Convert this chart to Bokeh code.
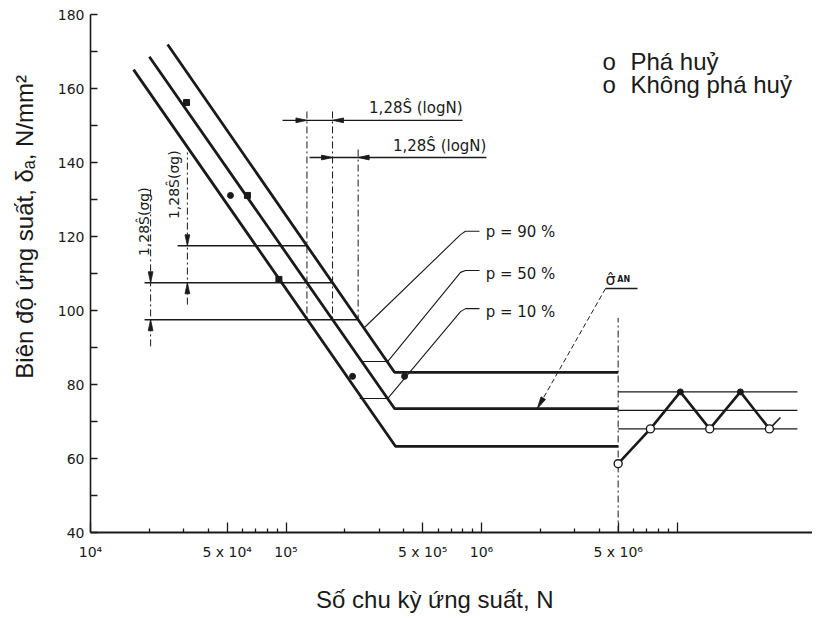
import numpy as np
from bokeh.plotting import figure
from bokeh.models import FixedTicker
from bokeh.core.properties import value
from bokeh.embed import file_html
from bokeh.resources import INLINE

# ---------------- data ----------------
# axis ticks
x_major = [1e4, 5e4, 1e5, 5e5, 1e6, 5e6, 1e7]
x_major_labels = ["10⁴", "5 x 10⁴", "10⁵", "5 x 10⁵", "10⁶", "5 x 10⁶", ""]
x_minor = [2e4, 3e4, 4e4, 6e4, 7e4, 8e4, 9e4,
           2e5, 3e5, 4e5, 6e5, 7e5, 8e5, 9e5,
           2e6, 3e6, 4e6, 6e6, 7e6, 8e6, 9e6]
y_ticks = list(range(40, 181, 10))
y_labels = [str(v) if v % 20 == 0 else "" for v in y_ticks]

# S-N curves (p = 10 %, 50 %, 90 %): sloped part then horizontal to N_end
curve_names = ["p = 10 %", "p = 50 %", "p = 90 %"]
curve_N_start = [1.66e4, 2.0e4, 2.48e4]
curve_S_start = [165.1, 168.6, 171.9]
curve_N_knee = [3.63e5, 3.59e5, 3.59e5]
curve_S_knee = [63.3, 73.5, 83.3]
curve_N_end = 5e6

# failure points on the sloped region
fail_N = [3.1e4, 5.2e4, 6.35e4, 9.2e4, 2.19e5, 4.04e5]
fail_S = [156.2, 131.1, 131.1, 108.4, 82.2, 82.2]
fail_marker = ["square", "circle", "square", "square", "circle", "circle"]

# stress levels used for the scatter construction
level_S = [117.5, 107.5, 97.5]
level_N_left = [2.79e4, 1.89e4, 1.89e4]
level_vert_top = [153.8, 153.8, 143.5]

# 1,28 S(logN) dimension lines
dim_S = [151.4, 141.35]
dim_N_left = [9.6e4, 1.32e5]
dim_N_right = [8.0e5, 1.06e6]
dim_text_S = [154.8, 144.4]
dim_text = ["1,28Ŝ (logN)", "1,28Ŝ (logN)"]

# 1,28 S(sigma) vertical dimension lines
sig_N = [2.03e4, 3.13e4]
sig_top = [133.5, 142.7]
sig_bot = [90.3, 101.6]
sig_tip_hi = [107.5, 117.5]
sig_tip_lo = [97.5, 107.5]
sig_text_N = [1.87e4, 2.66e4]
sig_text_S = [124.0, 134.0]
sig_text = ["1,28Ŝ(σg)", "1,28Ŝ(σg)"]

# leaders to the p labels
lead_N = [[9.77e5, 8.28e5, 7.81e5, 2.52e5],
          [9.77e5, 8.28e5, 7.81e5, 3.31e5, 2.43e5],
          [9.77e5, 8.28e5, 7.81e5, 3.31e5, 2.38e5]]
lead_S = [[121.4, 121.4, 120.5, 95.4],
          [110.8, 110.8, 110.3, 86.2, 86.2],
          [100.5, 100.5, 99.7, 76.2, 76.2]]
plabel_N = 1.05e6
plabel_S = [121.1, 110.0, 99.7]
plabel_text = ["p = 90 %", "p = 50 %", "p = 10 %"]

# sigma_AN annotation
san_N = 4.31e6
san_S = 108.5
san_sub_N = 4.95e6
san_line_N = [4.31e6, 6.28e6]
san_line_S = 105.95
san_tip = (1.93e6, 73.5)

# staircase (up-and-down) test beyond 5x10^6
stair_N = [5.0e6, 7.31e6, 1.04e7, 1.47e7, 2.11e7, 2.97e7]
stair_S = [58.6, 68.0, 78.0, 68.0, 78.0, 68.0]
stair_broken = [False, False, True, False, True, False]
stair_tail_N = [2.97e7, 3.38e7]
stair_tail_S = [68.0, 71.1]
stair_levels = [78.0, 73.0, 68.0]
stair_level_N = [5.0e6, 4.13e7]
limit_N = 5e6
limit_top = 98.0

# legend
legend_mark_N = 4.16e6
legend_text_N = 5.78e6
legend_S = [167.4, 161.1]
legend_text = ["Phá huỷ", "Không phá huỷ"]

x_label = "Số chu kỳ ứng suất, N"
y_label = "Biên độ ứng suất, δₐ, N/mm²"

# ---------------- figure ----------------
PXD = 195.5   # px per decade
PXU = 3.7     # px per N/mm2
FW, FH = 722, 518
x_end = 10 ** (4 + FW / PXD)
INK = "#1a1a1a"

p = figure(frame_width=FW, frame_height=FH, x_axis_type="log",
           x_range=(1e4, x_end), y_range=(40, 180),
           output_backend="svg", toolbar_location=None,
           min_border_left=90, min_border_right=0,
           min_border_top=14, min_border_bottom=82)
p.outline_line_color = None
p.xgrid.visible = False
p.ygrid.visible = False
p.background_fill_color = "white"
p.border_fill_color = "white"

xa = p.xaxis[0]
xa.ticker = FixedTicker(ticks=x_major, minor_ticks=x_minor)
xa.major_label_overrides = dict(zip(x_major, x_major_labels))
xa.major_tick_in = 10
xa.major_tick_out = 0
xa.minor_tick_in = 4
xa.minor_tick_out = 0
xa.axis_line_width = 2
xa.axis_line_color = INK
xa.major_tick_line_width = 1.3
xa.major_tick_line_color = INK
xa.minor_tick_line_width = 1.3
xa.minor_tick_line_color = INK
xa.major_label_text_font = "DejaVu Sans"
xa.major_label_text_font_size = "14px"
xa.major_label_text_color = INK
xa.major_label_standoff = 11
xa.axis_label = x_label + "\u00a0" * 5
xa.axis_label_text_font = "Liberation Sans"
xa.axis_label_text_font_size = "24px"
xa.axis_label_text_font_style = "normal"
xa.axis_label_text_color = INK
xa.axis_label_standoff = 23

ya = p.yaxis[0]
ya.ticker = FixedTicker(ticks=y_ticks)
ya.major_label_overrides = dict(zip(y_ticks, y_labels))
ya.major_tick_in = 7
ya.major_tick_out = 0
ya.minor_tick_line_color = None
ya.axis_line_width = 1.6
ya.axis_line_color = INK
ya.major_tick_line_width = 1.3
ya.major_tick_line_color = INK
ya.major_label_text_font = "DejaVu Sans"
ya.major_label_text_font_size = "14px"
ya.major_label_text_color = INK
ya.major_label_standoff = 6
ya.axis_label = "\u00a0" * 14 + y_label
ya.axis_label_text_font = "Liberation Sans"
ya.axis_label_text_font_size = "24px"
ya.axis_label_text_font_style = "normal"
ya.axis_label_text_color = INK
ya.axis_label_standoff = 17


def _px(n, s):
    return (np.log10(n) - 4) * PXD, (s - 40) * PXU


def _data(x, y):
    return 10 ** (4 + x / PXD), 40 + y / PXU


def head(tip, tail, length=11.0, half=2.4):
    tx, ty = _px(*tip)
    bx, by = _px(*tail)
    dx, dy = tx - bx, ty - by
    d = np.hypot(dx, dy)
    ux, uy = dx / d, dy / d
    cx, cy = tx - ux * length, ty - uy * length
    nx, ny = -uy * half, ux * half
    pts = [(tx, ty), (cx + nx, cy + ny), (cx - nx, cy - ny)]
    dd = [_data(a, b) for a, b in pts]
    return [q[0] for q in dd], [q[1] for q in dd]


heads_x, heads_y = [], []

# ---- main curves ----
for i in range(3):
    p.line([curve_N_start[i], curve_N_knee[i], curve_N_end],
           [curve_S_start[i], curve_S_knee[i], curve_S_knee[i]],
           line_width=2.8, line_color=INK)

# intersections of stress levels with the p = 90 % curve
logN90 = [np.log10(curve_N_knee[2]), np.log10(curve_N_start[2])]
S90 = [curve_S_knee[2], curve_S_start[2]]
level_N_right = [10 ** np.interp(s, S90, logN90) for s in level_S]

for i in range(3):
    p.line([level_N_left[i], level_N_right[i]], [level_S[i], level_S[i]],
           line_width=1.3, line_color=INK)
    p.line([level_N_right[i], level_N_right[i]], [level_vert_top[i], level_S[2]],
           line_width=1.0, line_color=INK, line_dash="7 3 2 3")

# horizontal dimension lines
for i in range(2):
    p.line([dim_N_left[i], dim_N_right[i]], [dim_S[i], dim_S[i]],
           line_width=1.3, line_color=INK)
    a, b = level_N_right[i], level_N_right[i + 1]
    hx, hy = head((a, dim_S[i]), (a / 2, dim_S[i]))
    heads_x.append(hx); heads_y.append(hy)
    hx, hy = head((b, dim_S[i]), (b * 2, dim_S[i]))
    heads_x.append(hx); heads_y.append(hy)
p.text(dim_N_right, dim_text_S, text=dim_text, text_align="right",
       text_baseline="alphabetic", text_font=value("DejaVu Sans"),
       text_font_size="15px", text_color=INK)

# vertical sigma dimension lines
for i in range(2):
    p.line([sig_N[i], sig_N[i]], [sig_bot[i], sig_top[i]],
           line_width=1.0, line_color=INK, line_dash="7 3 2 3")
    hx, hy = head((sig_N[i], sig_tip_hi[i]), (sig_N[i], sig_tip_hi[i] + 10))
    heads_x.append(hx); heads_y.append(hy)
    hx, hy = head((sig_N[i], sig_tip_lo[i]), (sig_N[i], sig_tip_lo[i] - 10))
    heads_x.append(hx); heads_y.append(hy)
p.text(sig_text_N, sig_text_S, text=sig_text, angle=np.pi / 2,
       text_align="center", text_baseline="middle",
       text_font=value("DejaVu Sans"), text_font_size="14px", text_color=INK)

# leaders and p labels
p.multi_line(lead_N, lead_S, line_width=1.1, line_color=INK)
p.text([plabel_N] * 3, plabel_S, text=plabel_text, text_align="left",
       text_baseline="middle", text_font=value("DejaVu Sans"),
       text_font_size="15px", text_color=INK)

# failure points
for m in ["square", "circle"]:
    xs = [n for n, k in zip(fail_N, fail_marker) if k == m]
    ys = [s for s, k in zip(fail_S, fail_marker) if k == m]
    p.scatter(xs, ys, marker=m, size=6, fill_color=INK, line_color=INK)

# sigma_AN label + dashed leader
p.text([san_N], [san_S], text=["σ\u0302"], text_align="left",
       text_baseline="alphabetic", text_font=value("DejaVu Sans"),
       text_font_size="16px", text_color=INK)
p.text([san_sub_N], [san_S], text=["AN"], text_align="left",
       text_baseline="alphabetic", text_font=value("DejaVu Sans"),
       text_font_size="8px", text_font_style="bold", text_color=INK)
p.line(san_line_N, [san_line_S, san_line_S], line_width=1.3, line_color=INK)
p.line([san_line_N[0], san_tip[0]], [san_line_S, san_tip[1]],
       line_width=1.0, line_color=INK, line_dash="5 3")
hx, hy = head(san_tip, (san_line_N[0], san_line_S), length=12, half=2.6)
heads_x.append(hx); heads_y.append(hy)

# limit line at 5 x 10^6
p.line([limit_N, limit_N], [40, limit_top], line_width=1.0, line_color=INK,
       line_dash="7 3 2 3")

# staircase
for s in stair_levels:
    p.line(stair_level_N, [s, s], line_width=1.4, line_color=INK)
p.line(stair_N, stair_S, line_width=2.6, line_color=INK)
p.line(stair_tail_N, stair_tail_S, line_width=1.6, line_color=INK)
br_N = [n for n, b in zip(stair_N, stair_broken) if b]
br_S = [s for s, b in zip(stair_S, stair_broken) if b]
ok_N = [n for n, b in zip(stair_N, stair_broken) if not b]
ok_S = [s for s, b in zip(stair_S, stair_broken) if not b]
p.scatter(br_N, br_S, marker="circle", size=6, fill_color=INK, line_color=INK)
p.scatter(ok_N, ok_S, marker="circle", size=8, fill_color="white",
          line_color=INK, line_width=1.4)

# arrow heads
p.patches(heads_x, heads_y, fill_color=INK, line_color=INK, line_width=0.8)

# legend
p.text([legend_mark_N] * 2, legend_S, text=["o", "o"], text_align="left",
       text_baseline="alphabetic", text_font=value("Liberation Sans"),
       text_font_size="24px", text_color=INK)
p.text([legend_text_N] * 2, legend_S, text=legend_text, text_align="left",
       text_baseline="alphabetic", text_font=value("Liberation Sans"),
       text_font_size="24px", text_color=INK)

open("out.html", "w").write(file_html(p, INLINE))
